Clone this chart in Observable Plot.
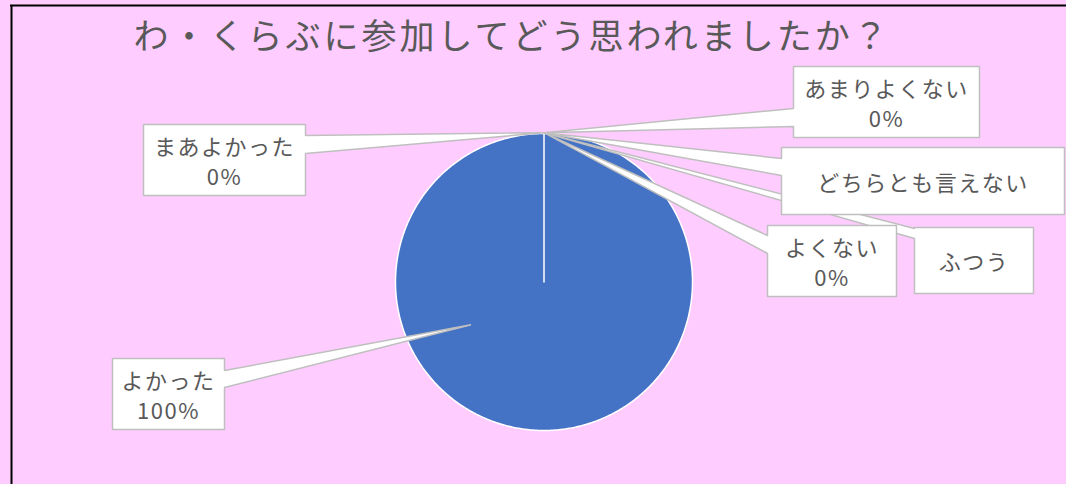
<!DOCTYPE html>
<html>
<head>
<meta charset="utf-8">
<script src="https://cdn.jsdelivr.net/npm/d3@7"></script>
<script src="https://cdn.jsdelivr.net/npm/@observablehq/plot@0.6"></script>
<style>
  html, body { margin: 0; padding: 0; background: #FFCCFF; }
  #chart { width: 1066px; height: 484px; }
</style>
</head>
<body>
<div id="chart"></div>
<script>
// ---- data ----
const title = "わ・くらぶに参加してどう思われましたか？";
const categories = ["よかった", "まあよかった", "ふつう", "どちらとも言えない", "あまりよくない", "よくない"];
const values = [100, 0, null, null, 0, 0];

// ---- layout (scale units == pixels) ----
const W = 1066, H = 484;
const cx = 543.5, cy = 281.5, R = 148.5;
const boxes = [
  {x0: 112, y0: 358, x1: 224, y1: 429, side: "right", b0: 370, b1: 387, tipAngle: 239.6, tipR: 0.57},
  {x0: 143, y0: 124, x1: 305, y1: 195, side: "right", b0: 135, b1: 153},
  {x0: 914, y0: 227, x1: 1033, y1: 293, side: "left", b0: 228, b1: 238},
  {x0: 781, y0: 147, x1: 1064, y1: 214, side: "left", b0: 158, b1: 175},
  {x0: 793, y0: 66, x1: 979, y1: 137, side: "left", b0: 108, b1: 126},
  {x0: 767, y0: 225, x1: 896, y1: 296, side: "left", b0: 235, b1: 253}
];

const rows = categories.map((c, i) => ({category: c, value: values[i]}));
const arcs = d3.pie().sort(null).value(d => d.value ?? 0).startAngle(0).endAngle(2 * Math.PI)(rows);

// slice polygons
const slicePts = arcs.filter(a => a.value > 0).flatMap(a => {
  const key = a.data.category;
  const pts = [{key, x: cx, y: cy}];
  const n = Math.max(2, Math.ceil((a.endAngle - a.startAngle) / (Math.PI / 360)));
  for (let k = 0; k <= n; k++) {
    const t = a.startAngle + (a.endAngle - a.startAngle) * k / n;
    pts.push({key, x: cx + R * Math.sin(t), y: cy - R * Math.cos(t)});
  }
  return pts;
});

// callout polygons
const calloutPts = arcs.flatMap((a, i) => {
  const b = boxes[i];
  const key = a.data.category;
  let ang, rr;
  if (b.tipAngle != null) { ang = b.tipAngle * Math.PI / 180; rr = R * b.tipR; }
  else { ang = a.endAngle; rr = R + 0.8; }
  const tip = {x: cx + rr * Math.sin(ang), y: cy - rr * Math.cos(ang)};
  let p;
  if (b.side === "left") {
    p = [[b.x0, b.y0], [b.x1, b.y0], [b.x1, b.y1], [b.x0, b.y1], [b.x0, b.b1], [tip.x, tip.y], [b.x0, b.b0]];
  } else {
    p = [[b.x0, b.y0], [b.x1, b.y0], [b.x1, b.b0], [tip.x, tip.y], [b.x1, b.b1], [b.x1, b.y1], [b.x0, b.y1]];
  }
  return p.map(([x, y]) => ({key, x, y}));
});

const labels = arcs.map((a, i) => ({
  x: (boxes[i].x0 + boxes[i].x1) / 2,
  y: (boxes[i].y0 + boxes[i].y1) / 2,
  text: a.data.category + (a.data.value != null ? "\n" + a.data.value + "%" : "")
}));

const plot = Plot.plot({
  width: W,
  height: H,
  margin: 0,
  x: {domain: [0, W], range: [0, W], axis: null},
  y: {domain: [0, H], range: [0, H], axis: null},
  style: {background: "#FFCCFF", fontFamily: "'Noto Sans CJK JP', 'Noto Sans', sans-serif"},
  marks: [
    Plot.ruleX([11], {y1: 5, y2: H, stroke: "black", strokeWidth: 2}),
    Plot.ruleY([5], {x1: 10, x2: W, stroke: "black", strokeWidth: 2}),
    Plot.line(slicePts, {x: "x", y: "y", z: "key", fill: "#4472C4", stroke: "white", strokeWidth: 1.5, curve: "linear-closed"}),
    Plot.line(calloutPts, {x: "x", y: "y", z: "key", fill: "white", stroke: "#BFBFBF", strokeWidth: 1.5, curve: "linear-closed", strokeLinejoin: "miter"}),
    Plot.text([title], {x: 133, y: 37, text: d => d, textAnchor: "start", fontSize: 35, fill: "#595959"}),
    Plot.text(labels, {x: "x", y: "y", text: "text", fontSize: 22, lineHeight: 1.36, fill: "#595959"})
  ]
});

const tg = plot.querySelectorAll('g[aria-label="text"]');
if (tg[0]) tg[0].style.letterSpacing = "3px";
if (tg[1]) tg[1].style.letterSpacing = "1.5px";
document.getElementById("chart").appendChild(plot);
</script>
</body>
</html>
